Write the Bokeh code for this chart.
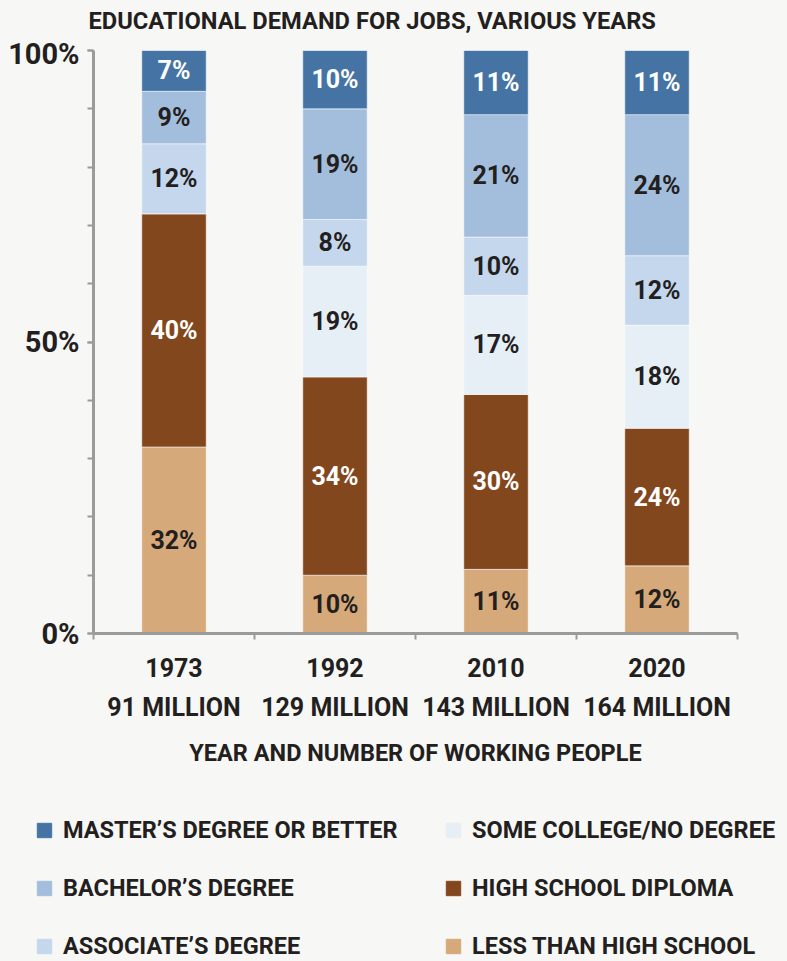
from bokeh.plotting import figure
from bokeh.layouts import column
from bokeh.models import (ColumnDataSource, Range1d, FixedTicker, Legend, LegendItem, Label)
from bokeh.core.properties import value
from bokeh.embed import file_html
from bokeh.resources import INLINE

# ---- data ----
years = ["1973", "1992", "2010", "2020"]
workers = ["91 MILLION", "129 MILLION", "143 MILLION", "164 MILLION"]
less_than_hs = [32, 10, 11, 11.6]
high_school = [40, 34, 30, 23.6]
some_college = [0, 19, 17, 17.7]
associate = [12, 8, 10, 11.9]
bachelor = [9, 19, 21, 24.2]
master = [7, 10, 11, 11.0]

series_keys = ["less", "hs", "some", "assoc", "bach", "master"]
series_vals = [less_than_hs, high_school, some_college, associate, bachelor, master]
series_names = ["LESS THAN HIGH SCHOOL", "HIGH SCHOOL DIPLOMA", "SOME COLLEGE/NO DEGREE",
                "ASSOCIATE\u2019S DEGREE", "BACHELOR\u2019S DEGREE", "MASTER\u2019S DEGREE OR BETTER"]
colors = ["#d5a979", "#83471e", "#e6eef6", "#c4d7ec", "#a3bedd", "#4574a4"]
label_colors = ["#231f20", "#ffffff", "#231f20", "#231f20", "#231f20", "#ffffff"]
title_text = "EDUCATIONAL DEMAND FOR JOBS, VARIOUS YEARS"

FONT = "Roboto"
DARK = "#231f20"
BG = "#f7f7f5"
AXC = "#9b9b9b"


def blank_figure(h, xr, yr):
    f = figure(width=787, height=h, output_backend="svg", toolbar_location=None,
               x_range=xr, y_range=yr, x_axis_location=None, y_axis_location=None, min_border=0)
    f.frame_align = False
    f.background_fill_color = BG
    f.border_fill_color = BG
    f.outline_line_color = None
    f.grid.visible = False
    return f


# ---- title strip ----
p0 = blank_figure(36, Range1d(0, 1), Range1d(0, 1))
p0.add_layout(Label(x=88, y=16, x_units="screen", y_units="screen", text=title_text,
                    text_font=FONT, text_font_style="bold", text_font_size="23.7px",
                    text_color=DARK, text_align="left", text_baseline="middle"))

# ---- main chart ----
xpos = [i + 0.5 for i in range(len(years))]
data = {"x": xpos}
for k, v in zip(series_keys, series_vals):
    data[k] = v
source = ColumnDataSource(data)

p = figure(width=787, height=764, output_backend="svg", toolbar_location=None,
           x_range=Range1d(0, len(years)), y_range=Range1d(0, 100),
           min_border_left=93, min_border_right=50, min_border_top=14, min_border_bottom=167)
p.frame_align = False
p.background_fill_color = BG
p.border_fill_color = BG
p.outline_line_color = None
p.grid.visible = False

renderers = p.vbar_stack(series_keys, x="x", width=0.4, color=colors, source=source,
                         line_color="#ffffff", line_alpha=0.5, line_width=1)

# segment labels
lx, ly, lt, lc = [], [], [], []
for i in range(len(years)):
    base = 0
    for vals, c in zip(series_vals, label_colors):
        v = vals[i]
        if v > 0:
            lx.append(xpos[i]); ly.append(base + v / 2); lt.append(f"{round(v)}%"); lc.append(c)
        base += v
p.text(x=lx, y=ly, text=lt, text_color=lc, text_align="center", text_baseline="middle",
       text_font=value(FONT), text_font_style="bold", text_font_size="25px")

# x axis
p.xaxis.ticker = FixedTicker(ticks=xpos, minor_ticks=list(range(len(years) + 1)))
p.xaxis.major_label_overrides = {x: f"{y}\n{w}" for x, y, w in zip(xpos, years, workers)}
p.xaxis.major_tick_line_color = None
p.xaxis.minor_tick_out = 6
p.xaxis.minor_tick_in = 0
p.xaxis.minor_tick_line_color = AXC
p.xaxis.minor_tick_line_width = 2
p.xaxis.axis_line_color = AXC
p.xaxis.axis_line_width = 3
p.xaxis.major_label_text_font = FONT
p.xaxis.major_label_text_font_style = "bold"
p.xaxis.major_label_text_font_size = "25px"
p.xaxis.major_label_text_line_height = 1.37
p.xaxis.major_label_text_color = DARK
p.xaxis.major_label_standoff = 14
p.xaxis.axis_label = "YEAR AND NUMBER OF WORKING PEOPLE"
p.xaxis.axis_label_text_font = FONT
p.xaxis.axis_label_text_font_style = "bold"
p.xaxis.axis_label_text_font_size = "23.5px"
p.xaxis.axis_label_text_color = DARK
p.xaxis.axis_label_standoff = 14

# y axis
p.yaxis.ticker = FixedTicker(ticks=[0, 50, 100], minor_ticks=list(range(0, 101, 10)))
p.yaxis.major_label_overrides = {0: "0%", 50: "50%", 100: "100%"}
p.yaxis.major_tick_out = 6
p.yaxis.major_tick_in = 0
p.yaxis.minor_tick_out = 6
p.yaxis.minor_tick_in = 0
p.yaxis.major_tick_line_color = AXC
p.yaxis.minor_tick_line_color = AXC
p.yaxis.major_tick_line_width = 2
p.yaxis.minor_tick_line_width = 2
p.yaxis.axis_line_color = AXC
p.yaxis.axis_line_width = 3
p.yaxis.major_label_text_font = FONT
p.yaxis.major_label_text_font_style = "bold"
p.yaxis.major_label_text_font_size = "29px"
p.yaxis.major_label_text_color = DARK
p.yaxis.major_label_standoff = 8

# ---- legend strip (glyphs share the chart's data but lie far outside its view) ----
p2 = blank_figure(161, Range1d(1000, 1001), Range1d(1000, 1001))
leg_renderers = p2.vbar_stack(series_keys, x="x", width=0.4, color=colors, source=source)

order = [5, 4, 3, 2, 1, 0]
items = [LegendItem(label=series_names[j], renderers=[leg_renderers[j]]) for j in order]
legend = Legend(items=items, location=(35, 1), ncols=2,
                glyph_width=18, glyph_height=18, label_height=18, label_width=351,
                spacing=30, padding=0, margin=0, label_standoff=10,
                label_text_font=FONT, label_text_font_style="bold", label_text_font_size="23.5px",
                label_text_color=DARK, label_text_baseline="middle",
                border_line_color=None, background_fill_alpha=0)
p2.add_layout(legend, "center")

layout = column(p0, p, p2, spacing=0)
html = file_html(layout, INLINE)
html = html.replace("<head>", "<head><style>html,body{background:%s;}</style>" % BG, 1)
open("out.html", "w").write(html)
